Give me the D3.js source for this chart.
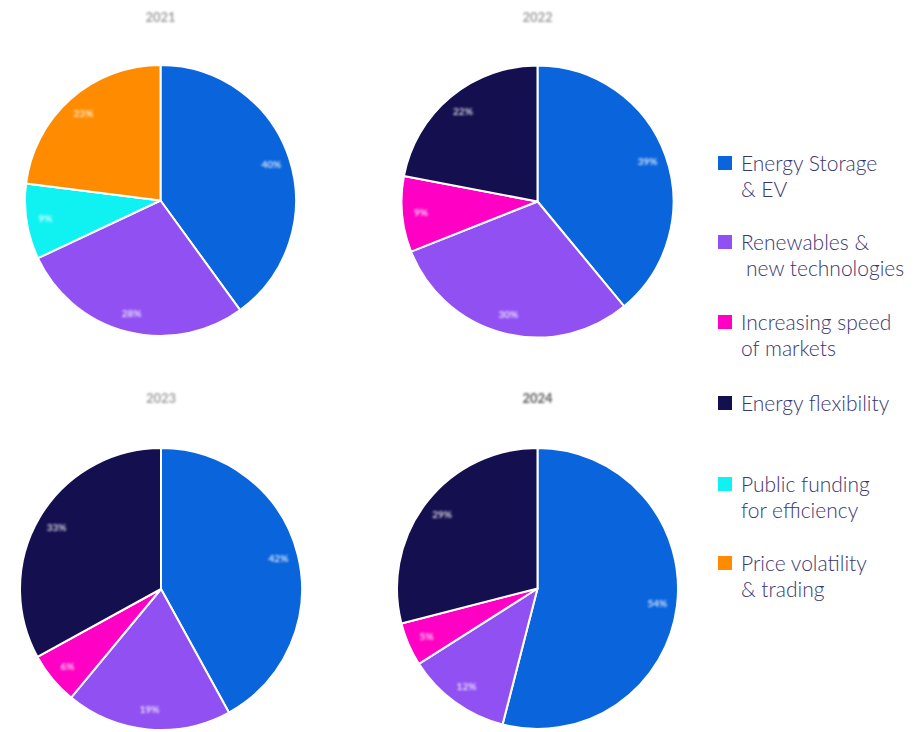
<!DOCTYPE html>
<html>
<head>
<meta charset="utf-8">
<script src="https://cdn.jsdelivr.net/npm/d3@7"></script>
<style>
  html, body { margin: 0; padding: 0; background: #ffffff; }
  svg { display: block; }
</style>
</head>
<body>
<svg id="chart" width="923" height="732"></svg>
<script>
// Driver categories (legend order)
const categories = [
  "Energy Storage & EV",
  "Renewables & new technologies",
  "Increasing speed of markets",
  "Energy flexibility",
  "Public funding for efficiency",
  "Price volatility & trading"
];
const colors = ["#0a64dc", "#9150f2", "#ff00c4", "#14104f", "#10f2f2", "#ff8c00"];

// Yearly shares, in percent, per category (0 = not present that year)
const years = ["2021", "2022", "2023", "2024"];
const share2021 = [40, 28, 0, 0, 9, 23];
const share2022 = [39, 30, 9, 22, 0, 0];
const share2023 = [42, 19, 6, 33, 0, 0];
const share2024 = [54, 12, 5, 29, 0, 0];
const shares = [share2021, share2022, share2023, share2024];

// Legend lines
const legendLines = [
  ["Energy Storage", "& EV"],
  ["Renewables &", " new technologies"],
  ["Increasing speed", "of markets"],
  ["Energy flexibility"],
  ["Public funding", "for efficiency"],
  ["Price volatility", "& trading"]
];

const svg = d3.select("#chart");

const defs = svg.append("defs");
defs.append("filter").attr("id", "soft")
  .attr("x", "-20%").attr("y", "-50%").attr("width", "140%").attr("height", "200%")
  .append("feGaussianBlur").attr("stdDeviation", 0.8);

const panels = [
  { cx: 160.5, cy: 200.5, r: 135.5, ty: 17, tcol: "#a0a0a0" },
  { cx: 537.5, cy: 201.5, r: 136,   ty: 17, tcol: "#a0a0a0" },
  { cx: 161,   cy: 589,   r: 141,   ty: 398, tcol: "#a0a0a0" },
  { cx: 537.5, cy: 588.5, r: 140.5, ty: 398, tcol: "#5a5a5a" }
];

const pie = d3.pie().sort(null).value(d => d.value);

panels.forEach((p, i) => {
  const data = categories.map((c, k) => ({ cat: c, color: colors[k], value: shares[i][k] }))
    .filter(d => d.value > 0);
  const arcs = pie(data);
  const arc = d3.arc().innerRadius(0).outerRadius(p.r);
  const labelArc = d3.arc().innerRadius(p.r * 0.86).outerRadius(p.r * 0.86);

  const g = svg.append("g").attr("transform", `translate(${p.cx},${p.cy})`);
  g.selectAll("path.slice").data(arcs).join("path")
    .attr("class", "slice")
    .attr("d", arc)
    .attr("fill", d => d.data.color)
    .attr("stroke", "#ffffff")
    .attr("stroke-width", 2)
    .attr("stroke-linejoin", "round");

  g.selectAll("text.pct").data(arcs).join("text")
    .attr("class", "pct")
    .attr("transform", d => `translate(${labelArc.centroid(d)})`)
    .attr("text-anchor", "middle")
    .attr("dy", "0.35em")
    .attr("fill", "#ffffff")
    .attr("fill-opacity", 0.8)
    .attr("font-family", "Lato, sans-serif")
    .attr("font-size", 10)
    .attr("font-weight", 700)
    .attr("filter", "url(#soft)")
    .text(d => d.data.value + "%");

  svg.append("text")
    .attr("x", p.cx)
    .attr("y", p.ty)
    .attr("dy", "0.35em")
    .attr("text-anchor", "middle")
    .attr("fill", p.tcol)
    .attr("font-family", "Lato, sans-serif")
    .attr("font-size", 13)
    .attr("font-weight", 700)
    .attr("filter", "url(#soft)")
    .text(years[i]);
});

// Legend
const legendBase = [171, 250, 330, 411, 492, 571];
const lineGap = 26;
const legend = svg.append("g");
legendLines.forEach((lines, k) => {
  const y0 = legendBase[k];
  legend.append("rect")
    .attr("x", 718).attr("y", y0 - 15)
    .attr("width", 14).attr("height", 14)
    .attr("fill", colors[k]);
  const t = legend.append("text")
    .attr("font-family", "Lato, sans-serif")
    .attr("font-weight", 300)
    .attr("font-size", 21)
    .attr("fill", "#3a3672");
  lines.forEach((ln, j) => {
    t.append("tspan")
      .attr("x", ln.startsWith(" ") ? 746 : 741)
      .attr("y", y0 + j * lineGap)
      .text(ln.trim());
  });
});
</script>
</body>
</html>
